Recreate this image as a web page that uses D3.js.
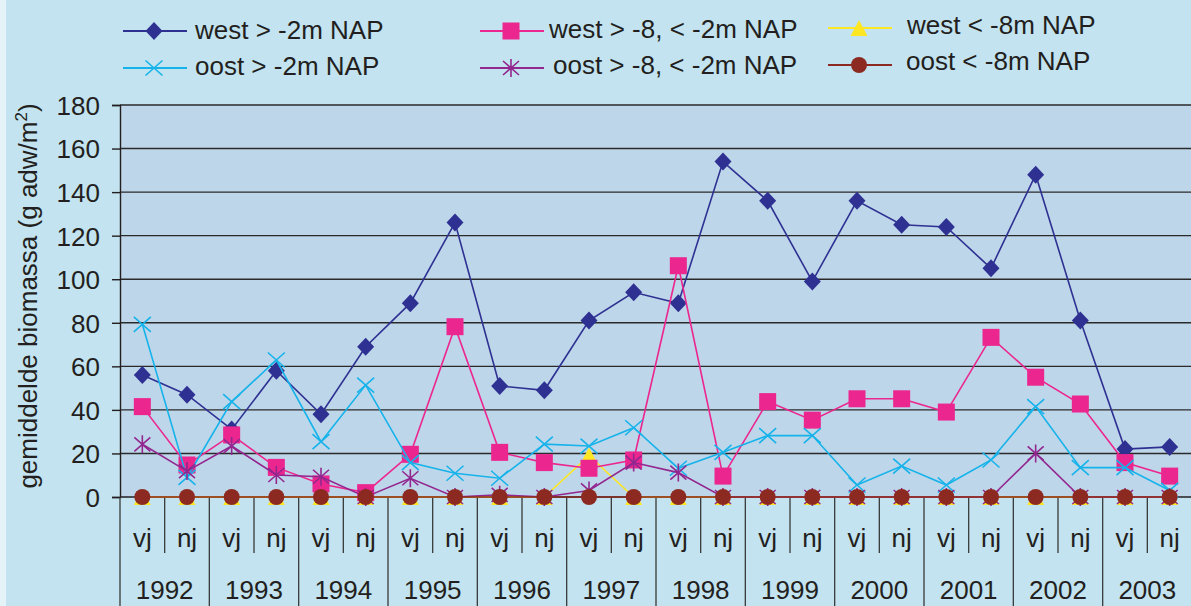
<!DOCTYPE html>
<html>
<head>
<meta charset="utf-8">
<script src="https://cdn.jsdelivr.net/npm/d3@7"></script>
<style>
  html, body { margin: 0; padding: 0; background: #c2e3ef; }
  svg { display: block; }
  text { font-family: "Liberation Sans", Arial, sans-serif; fill: #231f20; }
</style>
</head>
<body>
<svg id="chart" width="1191" height="606"></svg>
<script>
// ---- data ----
const years = ["1992","1993","1994","1995","1996","1997","1998","1999","2000","2001","2002","2003"];
const seasons = ["vj","nj"];
const yTicks = [0,20,40,60,80,100,120,140,160,180];

const westHigh = [56,47,31,58,38,69,89,126,51,49,81,94,89,154,136,99,136,125,124,105,148,81,22,23];
const westMid  = [41.5,14.7,28.5,13.6,6,2,19.6,78.2,20.5,15.8,13.2,17,106.2,9.6,43.8,35.3,45.1,45.1,39,73.3,55,42.7,15.8,9.6];
const westLow  = [0,0,0,0,0,0,0,0,0,0,19,0,0,0,0,0,0,0,0,0,0,0,0,0];
const oostHigh = [79.3,9,43.8,62.9,25.4,51.4,15.8,10.9,8.6,24.3,23.4,31.8,13.2,20.5,28.2,28.2,5.5,14.2,5.5,17,41.5,13.5,13.5,3];
const oostMid  = [24.2,11.9,23.4,10.1,9.3,0,8.6,0,1,0,3,15.8,11.2,0,0,0,0,0,0,0,20,0,0,0];
const oostLow  = [0,0,0,0,0,0,0,0,0,0,0,0,0,0,0,0,0,0,0,0,0,0,0,0];

const seriesNames = ["west > -2m NAP","west > -8, < -2m NAP","west < -8m NAP","oost > -2m NAP","oost > -8, < -2m NAP","oost < -8m NAP"];

// ---- layout ----
const svg = d3.select("#chart");
const W = 1191, H = 606;
const plot = {left:120, right:1192, top:105, bottom:497};

const categories = [];
years.forEach(y => seasons.forEach(s => categories.push(y + " " + s)));

const x = d3.scaleBand().domain(categories).range([plot.left, plot.right]).padding(0);
const y = d3.scaleLinear().domain([0,180]).range([plot.bottom, plot.top]);
const cx = i => x(categories[i]) + x.bandwidth()/2;

// backgrounds
svg.append("rect").attr("x",0).attr("y",0).attr("width",W).attr("height",H).attr("fill","#c2e3ef");
svg.append("rect").attr("x",0).attr("y",0).attr("width",6).attr("height",H).attr("fill","#e3f3f8");
svg.append("rect").attr("x",plot.left).attr("y",plot.top)
  .attr("width",plot.right-plot.left).attr("height",plot.bottom-plot.top).attr("fill","#bed6ea");

// gridlines
svg.append("g").selectAll("line").data(yTicks.filter(d=>d>0)).join("line")
  .attr("x1",plot.left).attr("x2",plot.right)
  .attr("y1",d=>y(d)).attr("y2",d=>y(d))
  .attr("stroke","#2a2a2a").attr("stroke-width",1.4);

// y axis
const yAxis = d3.axisLeft(y).tickValues(yTicks).tickSize(8).tickPadding(12).tickFormat(d3.format("d"));
const gy = svg.append("g").attr("transform",`translate(${plot.left},0)`).call(yAxis);
gy.select(".domain").attr("stroke","#231f20").attr("stroke-width",1.4);
gy.selectAll(".tick line").attr("stroke","#231f20").attr("stroke-width",1.4);
gy.selectAll(".tick text").style("font-size","26px").attr("fill","#231f20")
  .style("font-family","'Liberation Sans', Arial, sans-serif").attr("dy","0.36em");

// y title
const yt = svg.append("text")
  .attr("transform","translate(37,296) rotate(-90)")
  .attr("text-anchor","middle")
  .style("font-size","26px");
yt.append("tspan").text("gemiddelde biomassa (g adw/m");
yt.append("tspan").text("2").attr("dy","-10").style("font-size","17px");
yt.append("tspan").text(")").attr("dy","10");

// x axis: baseline
svg.append("line").attr("x1",plot.left).attr("x2",plot.right)
  .attr("y1",plot.bottom).attr("y2",plot.bottom).attr("stroke","#231f20").attr("stroke-width",1.4);

// category separators
const gx = svg.append("g");
categories.forEach((c,i) => {
  const xl = x(c);
  const isYearStart = (i % 2 === 0);
  gx.append("line").attr("x1",xl).attr("x2",xl)
    .attr("y1",plot.bottom).attr("y2", isYearStart ? H : 553)
    .attr("stroke","#3a3a3a").attr("stroke-width",1.3);
  gx.append("text").attr("x",cx(i)).attr("y",547).attr("text-anchor","middle")
    .style("font-size","26px").text(seasons[i % 2]);
});
years.forEach((yr,j) => {
  const x0 = x(categories[2*j]);
  const x1 = x(categories[2*j+1]) + x.bandwidth();
  gx.append("text").attr("x",(x0+x1)/2).attr("y",599).attr("text-anchor","middle")
    .style("font-size","26px").text(yr);
});

// ---- series ----
const styles = [
  {data:westHigh, color:"#2e3192", marker:"diamond"},
  {data:westMid,  color:"#ec268f", marker:"square"},
  {data:westLow,  color:"#fde624", marker:"triangle"},
  {data:oostHigh, color:"#16b3ea", marker:"x"},
  {data:oostMid,  color:"#92278f", marker:"star"},
  {data:oostLow,  color:"#8c2a21", marker:"circle"}
];
const drawOrder = [0,2,1,3,4,5];

function drawMarker(g, type, color, px, py) {
  if (type === "diamond") {
    g.append("path").attr("d",`M${px},${py-9} L${px+8.5},${py} L${px},${py+9} L${px-8.5},${py} Z`).attr("fill",color);
  } else if (type === "square") {
    g.append("rect").attr("x",px-8.5).attr("y",py-8.5).attr("width",17).attr("height",17).attr("fill",color);
  } else if (type === "triangle") {
    g.append("path").attr("d",`M${px},${py-8} L${px+8.5},${py+8} L${px-8.5},${py+8} Z`).attr("fill",color);
  } else if (type === "circle") {
    g.append("circle").attr("cx",px).attr("cy",py).attr("r",8).attr("fill",color);
  } else if (type === "x") {
    g.append("path").attr("d",`M${px-8.5},${py-7.5} L${px+8.5},${py+7.5} M${px-8.5},${py+7.5} L${px+8.5},${py-7.5}`)
      .attr("stroke",color).attr("stroke-width",1.6).attr("fill","none");
  } else if (type === "star") {
    g.append("path").attr("d",`M${px-8},${py-7} L${px+8},${py+7} M${px-8},${py+7} L${px+8},${py-7} M${px},${py-9} L${px},${py+9}`)
      .attr("stroke",color).attr("stroke-width",1.6).attr("fill","none");
  }
}

const line = d3.line().x((d,i)=>cx(i)).y(d=>y(d));
const gs = svg.append("g");
drawOrder.forEach(k => {
  const s = styles[k];
  const g = gs.append("g");
  g.append("path").datum(s.data).attr("d",line).attr("fill","none")
    .attr("stroke",s.color).attr("stroke-width",1.6);
  s.data.forEach((v,i) => drawMarker(g, s.marker, s.color, cx(i), y(v)));
});

// ---- legend ----
const legendPos = [
  {lx:123, ly:31, tx:195, ty:39},
  {lx:480, ly:31, tx:549, ty:38},
  {lx:828, ly:28, tx:907, ty:34},
  {lx:123, ly:68, tx:195, ty:75},
  {lx:480, ly:68, tx:553, ty:74},
  {lx:828, ly:65, tx:906, ty:70}
];
const gl = svg.append("g");
styles.forEach((s,k) => {
  const p = legendPos[k];
  const g = gl.append("g");
  g.append("line").attr("x1",p.lx).attr("x2",p.lx+64).attr("y1",p.ly).attr("y2",p.ly)
    .attr("stroke",s.color).attr("stroke-width",2);
  drawMarker(g, s.marker, s.color, p.lx+31, p.ly);
  g.append("text").attr("x",p.tx).attr("y",p.ty).style("font-size","26px").text(seriesNames[k]);
});
</script>
</body>
</html>
